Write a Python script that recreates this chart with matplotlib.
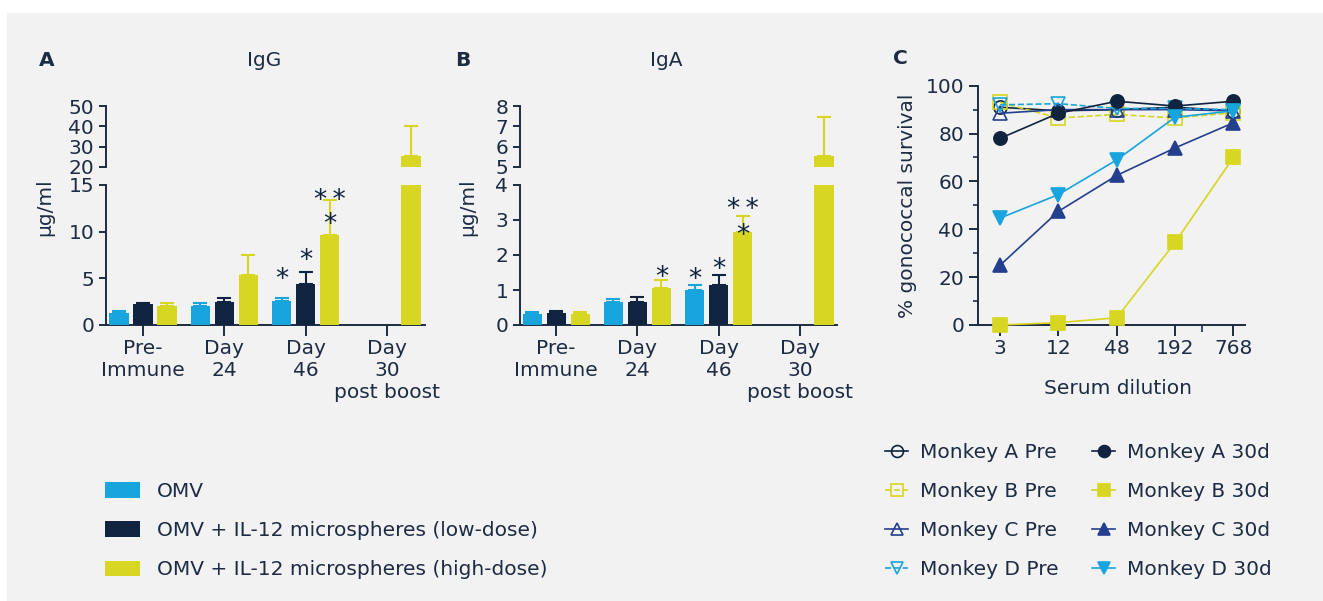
import numpy as np
import matplotlib
matplotlib.use("Agg")
import matplotlib.pyplot as plt
from matplotlib.patches import Patch, Rectangle
from matplotlib.lines import Line2D
import matplotlib.transforms as mtransforms

# ---------------- data ----------------
groups = ['Pre-\nImmune', 'Day\n24', 'Day\n46', 'Day\n30\npost boost']
series_names = ['OMV', 'OMV + IL-12 microspheres (low-dose)',
                'OMV + IL-12 microspheres (high-dose)']
nan = np.nan

igg_omv = [1.3, 2.05, 2.6, nan]
igg_omv_err = [0.25, 0.3, 0.25, nan]
igg_low = [2.3, 2.45, 4.4, nan]
igg_low_err = [0.08, 0.45, 1.3, nan]
igg_high = [2.05, 5.35, 9.65, 25.3]
igg_high_err = [0.3, 2.1, 3.75, 15.0]

iga_omv = [0.31, 0.66, 1.0, nan]
iga_omv_err = [0.05, 0.09, 0.14, nan]
iga_low = [0.34, 0.66, 1.14, nan]
iga_low_err = [0.07, 0.15, 0.28, nan]
iga_high = [0.31, 1.06, 2.66, 5.53]
iga_high_err = [0.06, 0.23, 0.45, 1.93]

# significance marks: (group, series, y, text)
igg_sig = [(2, 0, 5.7, '*'), (2, 1, 7.7, '*'), (2, 2, 11.6, '*'), (2, 2, 14.15, '*\u2009*')]
iga_sig = [(1, 2, 1.57, '*'), (2, 0, 1.51, '*'), (2, 1, 1.8, '*'), (2, 2, 2.77, '*'),
           (2, 2, 3.51, '*\u2009*')]

dilutions = ['3', '12', '48', '192', '768']
monkey_a_pre = [91, 89.5, 90, 91, 89.5]
monkey_b_pre = [93, 86.5, 88, 86.5, 88.7]
monkey_c_pre = [88.5, 90, 90, 90, 89.5]
monkey_d_pre = [92, 92.5, 90.5, 90.5, 90]
monkey_a_30d = [78, 88.5, 93.5, 91.5, 93.5]
monkey_b_30d = [0, 1, 3, 34.5, 70]
monkey_c_30d = [25, 47.5, 62.5, 74, 84.5]
monkey_d_30d = [44.7, 54.5, 69, 86.8, 89.5]

# ---------------- style ----------------
W, H = 1323, 601
TXT = '#1d2b44'
BLUE = '#18a4dd'
NAVY = '#10233f'
YELLOW = '#d7d622'
ROYAL = '#233f8e'
BG = '#f2f2f2'
FS = 14.5

plt.rcParams.update({
    'font.family': ['DejaVu Sans'],
    'font.size': FS,
    'text.color': TXT,
    'axes.labelcolor': TXT,
    'axes.edgecolor': TXT,
    'xtick.color': TXT,
    'ytick.color': TXT,
    'axes.linewidth': 1.4,
})

fig = plt.figure(figsize=(W / 100, H / 100), dpi=100)
fig.patch.set_facecolor('white')
fig.patches.append(Rectangle((7 / W, 0), 1 - 7 / W, 1 - 13 / H, transform=fig.transFigure,
                             facecolor=BG, edgecolor='none', zorder=-10))


def rect(l, r, top, bottom):
    return [l / W, 1 - bottom / H, (r - l) / W, (bottom - top) / H]


def style_ax(ax):
    ax.set_facecolor('none')
    for s in ['top', 'right']:
        ax.spines[s].set_visible(False)
    ax.tick_params(axis='y', length=5, width=1.4, pad=3.5, labelsize=FS)
    ax.tick_params(axis='x', length=8, width=1.4, pad=2, labelsize=FS)


bw = 0.234
offs = [-0.295, 0.0, 0.295]
colors = [BLUE, NAVY, YELLOW]


def draw_bars(ax, vals, errs):
    x0 = np.arange(len(groups))
    for v, e, c, o in zip(vals, errs, colors, offs):
        v = np.array(v, dtype=float)
        e = np.array(e, dtype=float)
        ax.bar(x0 + o, v, width=bw, color=c, zorder=3)
        ax.errorbar(x0 + o, v, yerr=[np.zeros_like(e), e], fmt='none', ecolor=c,
                    elinewidth=1.5, capsize=5, capthick=1.5, zorder=2)


def broken_panel(lpx, rpx, vals, errs, low_lim, low_ticks, high_lim, high_ticks, xlim, sig):
    axb = fig.add_axes(rect(lpx, rpx, 185, 325))
    axt = fig.add_axes(rect(lpx, rpx, 106, 167))
    for ax in (axb, axt):
        style_ax(ax)
        draw_bars(ax, vals, errs)
        ax.set_xlim(*xlim)
    axb.set_ylim(*low_lim)
    axb.set_yticks(low_ticks)
    axb.set_xticks(np.arange(len(groups)))
    axb.set_xticklabels(groups, linespacing=1.2)
    axt.set_ylim(*high_lim)
    axt.set_yticks(high_ticks)
    axt.spines['bottom'].set_visible(False)
    axt.set_xticks([])
    fs_sig = 19
    tr = mtransforms.offset_copy(axb.transData, fig=fig, y=-0.58 * fs_sig, units='points')
    for g, s, y, t in sig:
        axb.text(g + offs[s], y, t, transform=tr, ha='center', va='baseline',
                 fontsize=fs_sig, color=NAVY)
    return axb, axt


broken_panel(106, 425, [igg_omv, igg_low, igg_high], [igg_omv_err, igg_low_err, igg_high_err],
             (0, 15), [0, 5, 10, 15], (20, 50), [20, 30, 40, 50], (-0.455, 3.467), igg_sig)
broken_panel(520, 837, [iga_omv, iga_low, iga_high], [iga_omv_err, iga_low_err, iga_high_err],
             (0, 4), [0, 1, 2, 3, 4], (5, 8), [5, 6, 7, 8], (-0.443, 3.455), iga_sig)

# panel labels / titles
fig.text(47 / W, 1 - 60 / H, 'A', ha='center', va='center', fontsize=FS, fontweight='bold')
fig.text(264 / W, 1 - 60 / H, 'IgG', ha='center', va='center', fontsize=FS)
fig.text(463 / W, 1 - 60 / H, 'B', ha='center', va='center', fontsize=FS, fontweight='bold')
fig.text(666 / W, 1 - 60 / H, 'IgA', ha='center', va='center', fontsize=FS)
fig.text(900 / W, 1 - 58 / H, 'C', ha='center', va='center', fontsize=FS, fontweight='bold')
fig.text(45 / W, 1 - 207 / H, 'μg/ml', ha='center', va='center', rotation=90, fontsize=FS)
fig.text(468 / W, 1 - 207 / H, 'μg/ml', ha='center', va='center', rotation=90, fontsize=FS)

# ---------------- panel C ----------------
axc = fig.add_axes(rect(978, 1245, 85.7, 325))
style_ax(axc)
xc = np.arange(len(dilutions))
ms = 9.5
mew = 1.2
series_c = [
    ('Monkey A Pre', monkey_a_pre, NAVY, 'o', False, '-'),
    ('Monkey B Pre', monkey_b_pre, YELLOW, 's', False, '--'),
    ('Monkey C Pre', monkey_c_pre, ROYAL, '^', False, '-'),
    ('Monkey D Pre', monkey_d_pre, BLUE, 'v', False, '--'),
    ('Monkey A 30d', monkey_a_30d, NAVY, 'o', True, '-'),
    ('Monkey B 30d', monkey_b_30d, YELLOW, 's', True, '-'),
    ('Monkey C 30d', monkey_c_30d, ROYAL, '^', True, '-'),
    ('Monkey D 30d', monkey_d_30d, BLUE, 'v', True, '-'),
]
handles = []
for name, vals, c, m, filled, ls in series_c:
    ln, = axc.plot(xc, vals, color=c, linestyle=ls, linewidth=1.2, marker=m, markersize=ms,
                   markerfacecolor=c if filled else 'none', markeredgecolor=c,
                   markeredgewidth=mew, label=name, clip_on=False, zorder=4 if filled else 3)
    handles.append(ln)
axc.set_ylim(0, 100)
axc.set_xlim(-0.38, 4.2)
axc.set_yticks([0, 20, 40, 60, 80, 100])
axc.set_yticks(np.arange(10, 100, 20), minor=True)
axc.set_xticks(xc)
axc.set_xticklabels(dilutions)
axc.set_xticks([3.46], minor=True)
axc.tick_params(axis='y', which='major', length=6.5)
axc.tick_params(axis='y', which='minor', length=3.5, width=1.2)
axc.tick_params(axis='x', which='minor', length=5, width=1.2)
axc.set_ylabel('% gonococcal survival', fontsize=FS, labelpad=6)
fig.text(1118 / W, 1 - 388 / H, 'Serum dilution', ha='center', va='center', fontsize=FS)

fig.legend(handles=handles, loc='upper left', bbox_to_anchor=(885 / W, 1 - 443 / H),
           ncol=2, frameon=False, borderpad=0, borderaxespad=0, handlelength=1.15,
           handletextpad=0.6, columnspacing=1.65, labelspacing=1.0, fontsize=FS,
           markerscale=0.9)

bar_handles = [Patch(facecolor=c, edgecolor='none') for c in colors]
fig.legend(handles=bar_handles, labels=series_names, loc='upper left',
           bbox_to_anchor=(105 / W, 1 - 482 / H), frameon=False, borderpad=0,
           borderaxespad=0, handlelength=1.75, handleheight=0.8, handletextpad=0.85,
           labelspacing=1.0, fontsize=FS)

fig.savefig('out.png', dpi=100, facecolor=fig.get_facecolor())
